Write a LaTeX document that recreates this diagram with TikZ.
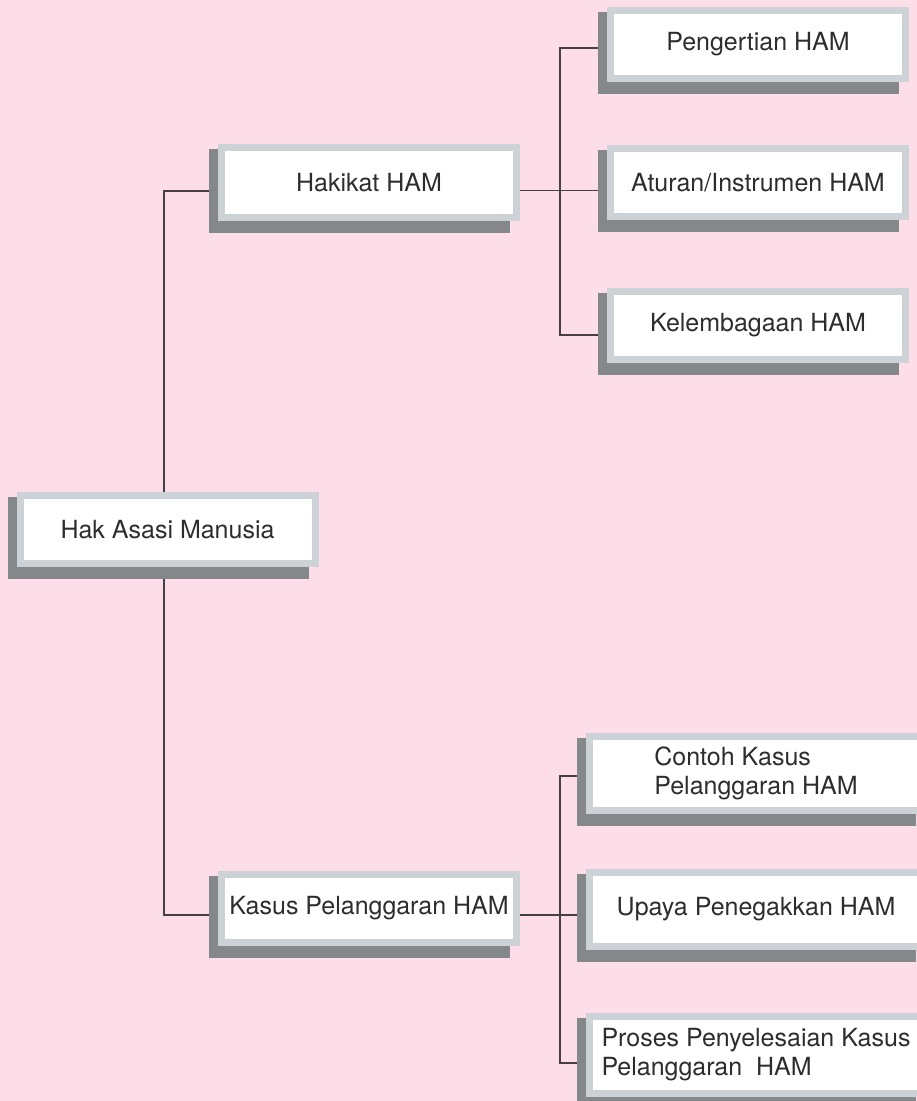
\documentclass[tikz,border=0pt]{standalone}
\usepackage{fontspec}
\setmainfont{TeX Gyre Heros}
\usetikzlibrary{calc}

\definecolor{pinkbg}{RGB}{252,221,232}
\definecolor{framegrey}{RGB}{205,210,214}
\definecolor{shadegrey}{RGB}{132,136,139}
\definecolor{inkgrey}{RGB}{45,45,45}
\definecolor{linegrey}{RGB}{70,64,70}

\pgfdeclarelayer{bg}
\pgfdeclarelayer{shade}
\pgfsetlayers{bg,shade,main}

\tikzset{every picture/.style={line width=1.2pt}}

\begin{document}
\begin{tikzpicture}[x=1pt,y=1pt,yscale=-1,xscale=1,
  hambox/.style={draw=framegrey, line width=7pt, fill=white, text=inkgrey,
    inner sep=0pt, minimum width=295pt, minimum height=68pt,
    font=\fontsize{25}{29}\selectfont},
  widebox/.style={hambox, minimum width=333pt, minimum height=74pt, align=left},
  link/.style={draw=linegrey, line width=1.2pt}]
\useasboundingbox (0,0) rectangle (917,1101);

% Boxes
\node [hambox] (ham) at (167.5,529.5) {Hak Asasi Manusia};
\node [hambox, minimum height=70pt] (hakikat) at (369,182.5) {Hakikat HAM};
\node [hambox] (kasus) at (369,908.5) {Kasus Pelanggaran HAM};

\node [hambox] (pengertian) at (758,44.5) {Pengertian HAM};
\node [hambox] (aturan) at (758,182.5) {Aturan/Instrumen HAM};
\node [hambox] (kelembagaan) at (758,325.5) {Kelembagaan HAM};

\node [widebox] (contoh) at (756,773.5) {Contoh Kasus\\Pelanggaran HAM};
\node [widebox] (upaya) at (756,909.5) {Upaya Penegakkan HAM};
\node [widebox, minimum height=77pt] (proses) at (756,1055) {Proses Penyelesaian Kasus\\Pelanggaran\ \ HAM};

% Background and connectors
\begin{pgfonlayer}{bg}
\fill [pinkbg] (0,0) rectangle (917,1101);

\draw [link] ($(hakikat.west)+(0,8.5)$) -| ($(ham)+(-3.5,0)$) |- ($(kasus.west)+(0,6.5)$);

\draw [link] ($(hakikat.east)+(0,8)$) -- ($(aturan.west)+(0,8)$);
\coordinate (hbus) at ($(hakikat.east)!0.46!(aturan.west)$);
\draw [link] ($(pengertian.west)+(0,3.5)$) -| (hbus) |- ($(kelembagaan.west)+(0,9.5)$);

\draw [link] ($(kasus.east)+(0,6.5)$) -- ($(upaya.west)+(0,5.5)$);
\coordinate (kbus) at ($(kasus.east)!0.606!(upaya.west)$);
\draw [link] ($(contoh.west)+(0,2.5)$) -| (kbus) |- ($(proses.west)+(0,8)$);
\end{pgfonlayer}

% Shadows
\begin{pgfonlayer}{shade}
\foreach \n in {ham,hakikat,kasus,pengertian,aturan,kelembagaan,contoh,upaya,proses}
  \fill [shadegrey] ($(\n.north west)+(-9,5)$) rectangle ($(\n.south east)+(-10,12)$);
\end{pgfonlayer}

\end{tikzpicture}
\end{document}
